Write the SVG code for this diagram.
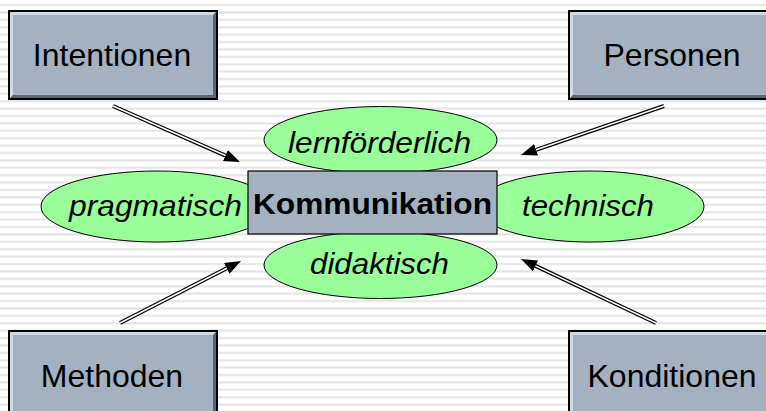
<svg xmlns="http://www.w3.org/2000/svg" width="766" height="411" viewBox="0 0 766 411">
<defs>
<pattern id="stripes" patternUnits="userSpaceOnUse" x="0" y="0" width="766" height="7.4">
<rect x="0" y="0" width="766" height="7.4" fill="#ffffff"/>
<rect x="0" y="4" width="766" height="2" fill="#e3e3e3"/>
</pattern>
<marker id="ah" markerUnits="userSpaceOnUse" markerWidth="17" markerHeight="13" refX="0" refY="6" orient="auto">
<path d="M0,0 L16,6 L0,12 Z" fill="#000"/>
</marker>
</defs>
<style>
.box{fill:#a3b1c0;stroke:#000;stroke-width:2}
.hl{fill:#cfd7e0}
.sh{fill:#5b6672}
.lbl{font-family:"Liberation Sans",Arial,sans-serif;font-size:32px;fill:#000;text-anchor:middle}
.ell{fill:#99ff99;stroke:#000;stroke-width:1}
.it{font-family:"Liberation Sans",Arial,sans-serif;font-size:30px;font-style:italic;fill:#000}
.center{fill:#a3b1c0;stroke:#000;stroke-width:1.2}
.bold{font-family:"Liberation Sans",Arial,sans-serif;font-size:30px;font-weight:bold;fill:#000}
.outer{stroke:#000;stroke-width:4;fill:none;marker-end:url(#ah)}
.inner{stroke:#fff;stroke-width:1.6;fill:none}
</style>
<rect x="0" y="0" width="766" height="411" fill="url(#stripes)"/>

<g id="intentionen">
<rect class="box" x="9" y="11" width="208" height="88"/>
<polygon class="hl" points="10,12 216,12 213,15 13,15 13,95 10,98"/>
<polygon class="sh" points="216,12 216,98 10,98 13,95 213,95 213,15"/>
<rect x="13" y="15" width="200" height="80" fill="#a3b1c0"/>
<rect x="9" y="11" width="208" height="88" fill="none" stroke="#000" stroke-width="2"/>
<text class="lbl" x="112" y="66">Intentionen</text>
</g>

<g id="personen">
<rect class="box" x="569" y="11" width="208" height="88"/>
<polygon class="hl" points="570,12 776,12 773,15 573,15 573,95 570,98"/>
<polygon class="sh" points="776,12 776,98 570,98 573,95 773,95 773,15"/>
<rect x="573" y="15" width="200" height="80" fill="#a3b1c0"/>
<rect x="569" y="11" width="208" height="88" fill="none" stroke="#000" stroke-width="2"/>
<text class="lbl" x="672" y="66">Personen</text>
</g>

<g id="methoden">
<rect class="box" x="9" y="331" width="208" height="88"/>
<polygon class="hl" points="10,332 216,332 213,335 13,335 13,415 10,418"/>
<polygon class="sh" points="216,332 216,418 10,418 13,415 213,415 213,335"/>
<rect x="13" y="335" width="200" height="80" fill="#a3b1c0"/>
<rect x="9" y="331" width="208" height="88" fill="none" stroke="#000" stroke-width="2"/>
<text class="lbl" x="112" y="387">Methoden</text>
</g>

<g id="konditionen">
<rect class="box" x="569" y="331" width="208" height="88"/>
<polygon class="hl" points="570,332 776,332 773,335 573,335 573,415 570,418"/>
<polygon class="sh" points="776,332 776,418 570,418 573,415 773,415 773,335"/>
<rect x="573" y="335" width="200" height="80" fill="#a3b1c0"/>
<rect x="569" y="331" width="208" height="88" fill="none" stroke="#000" stroke-width="2"/>
<text class="lbl" x="672" y="387">Konditionen</text>
</g>

<g id="connectors">
<path class="outer" d="M113,106 L225.4,155.6"/>
<path class="inner" d="M113,106 L225.4,155.6"/>
<path class="outer" d="M664,106 L536.1,149.8"/>
<path class="inner" d="M664,106 L536.1,149.8"/>
<path class="outer" d="M120,323 L226.8,268.3"/>
<path class="inner" d="M120,323 L226.8,268.3"/>
<path class="outer" d="M656,323 L535.5,265.9"/>
<path class="inner" d="M656,323 L535.5,265.9"/>
</g>

<g id="lernfoerderlich">
<ellipse class="ell" cx="380.5" cy="140" rx="116.5" ry="33.5"/>
<text class="it" x="288" y="153" textLength="183" lengthAdjust="spacingAndGlyphs">lernförderlich</text>
</g>
<g id="didaktisch">
<ellipse class="ell" cx="380.5" cy="265" rx="116.5" ry="33.5"/>
<text class="it" x="310" y="274" textLength="139" lengthAdjust="spacingAndGlyphs">didaktisch</text>
</g>
<g id="pragmatisch">
<ellipse class="ell" cx="157" cy="206.5" rx="116" ry="35.5"/>
<text class="it" x="69" y="216" textLength="173" lengthAdjust="spacingAndGlyphs">pragmatisch</text>
</g>
<g id="technisch">
<ellipse class="ell" cx="590" cy="206.5" rx="114" ry="35.5"/>
<text class="it" x="522" y="216" textLength="132" lengthAdjust="spacingAndGlyphs">technisch</text>
</g>

<g id="kommunikation">
<rect class="center" x="248" y="171" width="249" height="63"/>
<text class="bold" x="253" y="214" textLength="239" lengthAdjust="spacingAndGlyphs">Kommunikation</text>
</g>
</svg>
